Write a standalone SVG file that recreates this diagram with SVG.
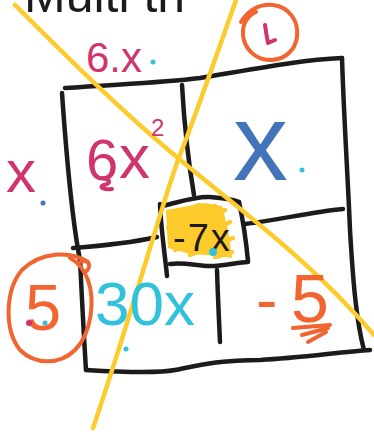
<svg xmlns="http://www.w3.org/2000/svg" width="374" height="438" viewBox="0 0 374 438">
<style>
.ink{fill:none;stroke:#1c1a1b;stroke-width:4.5;stroke-linecap:round;stroke-linejoin:round}
.yel{fill:none;stroke:#FDCB2C;stroke-width:4.5;stroke-linecap:round;stroke-linejoin:round}
.org{fill:none;stroke:#F26430;stroke-width:4;stroke-linecap:round;stroke-linejoin:round}
.pk{fill:none;stroke:#D1336C;stroke-width:4;stroke-linecap:round;stroke-linejoin:round}
.t{font-family:"Liberation Sans",Arial,sans-serif}
</style>
<rect width="374" height="438" fill="#ffffff"/>
<text class="t" x="24" y="12" font-size="50" fill="#1c1a1b">Multi  th</text>
<g id="grid">
<path class="ink" d="M65,88 C120,84 160,83 200,78 C260,68 300,60 342,58"/>
<path class="ink" d="M342,58 C344,120 348,180 350,230 C353,280 356,320 364,350"/>
<path class="ink" d="M86,370 C120,372 160,373 175,370 C200,365 220,360 260,360 C300,358 340,352 370,350"/>
<path class="ink" d="M62,93 C66,150 72,220 80,260 C82,300 84,340 86,370"/>
<path class="ink" d="M182,85 C184,120 188,160 194,195"/>
<path class="ink" d="M217,270 C218,300 219,320 220,342"/>
<path class="ink" d="M73,248 C100,246 130,243 157,237"/>
<path class="ink" d="M245,224 C280,220 310,212 343,209"/>
</g>
<g id="centre-box">
<path d="M166,210 L205,203 L222,206 L228,230 L232,258 L220,256 L190,254 L168,248 Z" fill="#FDCB2C"/>
<path class="yel" d="M170,215 L200,205 M168,228 L215,206 M170,240 L225,210 M175,250 L230,222 M190,255 L233,238 M215,257 L232,252"/>
<path class="ink" d="M160,204 C161,230 165,255 167,276"/>
<path class="ink" d="M163,206 C180,202 195,196 210,197 C222,198 232,199 239,202"/>
<path class="ink" d="M239,202 C243,220 246,240 248,261"/>
<path class="ink" d="M170,264 C185,262 197,266 210,266 C225,266 238,262 248,262"/>
<text class="t" x="173" y="251" font-size="38" letter-spacing="2" fill="#1c1a1b">-7x</text>
<circle cx="213" cy="252" r="4" fill="#30C1DC"/>
</g>
<g id="yellow-lines">
<path class="yel" d="M15,5 C60,50 120,110 178,158 C240,210 310,260 374,335"/>
<path class="yel" d="M236,0 C215,60 192,125 178,160 C160,210 130,320 93,428"/>
</g>
<g id="circle-1">
<path class="org" d="M241,22 C250,8 262,4 273,5 C290,7 299,22 297,37 C295,52 283,60 270,60 C255,60 244,48 243,35 C242,25 247,16 256,12"/>
<path class="pk" d="M265,25 C266,32 267,38 268,43 L275,40"/>
</g>
<g id="label-6x">
<text class="t" x="86" y="72" font-size="42" fill="#D1336C">6.x</text>
<circle cx="153" cy="62" r="2.5" fill="#30C1DC"/>
</g>
<g id="cell-6x2">
<text class="t" x="86" y="180" font-size="58" fill="#D1336C">6</text>
<text class="t" x="119" y="178" font-size="62" fill="#D1336C">x</text>
<text class="t" x="151" y="136" font-size="24" fill="#D1336C">2</text>
<path class="pk" d="M103,178 C110,180 112,183 104,185 C98,187 104,190 112,189"/>
</g>
<g id="label-x-left">
<text class="t" x="6" y="192" font-size="60" fill="#D1336C">x</text>
<circle cx="43" cy="203" r="2.5" fill="#4374BA"/>
</g>
<g id="cell-x">
<text class="t" x="233" y="180" font-size="110" fill="#4374BA">x</text>
<circle cx="302" cy="170" r="2.5" fill="#30C1DC"/>
</g>
<g id="circle-5">
<path class="org" d="M80,262 C90,258 92,268 85,272 M88,262 C70,250 40,252 22,270 C5,290 4,330 20,350 C35,365 60,365 75,350 C92,333 95,300 88,280 C84,270 78,262 70,258"/>
<text class="t" x="25" y="330" font-size="65" fill="#F26430">5</text>
<circle cx="29" cy="323" r="3" fill="#D1336C"/>
<circle cx="45" cy="323" r="2.5" fill="#30C1DC"/>
</g>
<g id="cell-30x">
<text class="t" x="95" y="325" font-size="62" fill="#30C1DC">30x</text>
<circle cx="126" cy="349" r="2.5" fill="#30C1DC"/>
</g>
<g id="cell-minus5">
<text class="t" x="256" y="322" font-size="64" fill="#F26430">-</text>
<text class="t" x="291" y="322" font-size="68" fill="#F26430">5</text>
<path class="org" stroke-width="5" d="M293,328 L330,325 M302,335 L328,328 M308,342 L326,332"/>
</g>
</svg>
